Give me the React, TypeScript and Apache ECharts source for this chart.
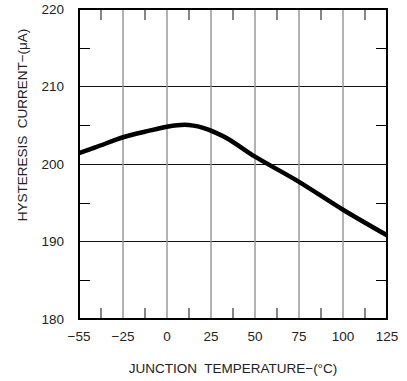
import React, { useEffect, useRef } from "react";
import * as echarts from "echarts";

// x positions on the (evenly spaced) temperature axis; first tick is labelled -55
const tickValues = [-50, -25, 0, 25, 50, 75, 100, 125];
const tickLabels = ["−55", "−25", "0", "25", "50", "75", "100", "125"];
const temps = [-50, -40, -25, -10, 0, 10, 15, 20, 25, 35, 50, 75, 100, 125];
const current = [201.4, 202.2, 203.45, 204.3, 204.8, 205.05, 204.95, 204.7, 204.3, 203.2, 200.95, 197.7, 194.1, 190.8];
const yTicks = [180, 190, 200, 210, 220];

const FONT = "Liberation Sans";

export default function App() {
  const ref = useRef<HTMLDivElement>(null);
  useEffect(() => {
    const chart = echarts.init(ref.current!, null, { renderer: "svg" });
    const labelFor = (v: number) => {
      const i = tickValues.indexOf(v);
      return i >= 0 ? tickLabels[i] : "";
    };
    const yMin = yTicks[0];
    const yMax = yTicks[yTicks.length - 1];
    const minorX = tickValues.slice(0, -1).map((v, i) => (v + tickValues[i + 1]) / 2);
    const frameAxis = {
      axisLine: { show: true, onZero: false, lineStyle: { color: "#000", width: 2 } },
      axisTick: { show: false, inside: true },
      minorTick: { show: true, splitNumber: 2, length: 11, lineStyle: { color: "#000", width: 1 } },
    };
    const tickSeries = (yVal: number, offset: number) => ({
      type: "scatter",
      xAxisIndex: 0,
      yAxisIndex: 0,
      silent: true,
      clip: false,
      symbol: "rect",
      symbolSize: [1.2, 11],
      symbolOffset: [0, offset],
      itemStyle: { color: "#000" },
      z: 4,
      data: minorX.map((v) => [v, yVal]),
    });
    chart.setOption({
      animation: false,
      backgroundColor: "#fff",
      grid: { left: 79, right: 20, top: 9, bottom: 62, containLabel: false },
      xAxis: [
        {
          type: "value",
          min: -50,
          max: 125,
          interval: 25,
          position: "bottom",
          name: "JUNCTION  TEMPERATURE−(°C)",
          nameLocation: "middle",
          nameGap: 42,
          nameTextStyle: { fontFamily: FONT, fontSize: 13.5, color: "#222" },
          axisLine: { show: true, onZero: false, lineStyle: { color: "#000", width: 2 } },
          axisTick: { show: false },
          axisLabel: { formatter: labelFor, fontFamily: FONT, fontSize: 13.5, color: "#222", margin: 10 },
          splitLine: { show: true, lineStyle: { color: "#999", width: 1.5 } },
        },
        {
          type: "value",
          min: -50,
          max: 125,
          interval: 25,
          position: "top",
          axisLine: { show: true, onZero: false, lineStyle: { color: "#000", width: 2 } },
          axisTick: { show: false },
          axisLabel: { show: false },
          splitLine: { show: false },
        },
      ],
      yAxis: [
        {
          type: "value",
          min: yMin,
          max: yMax,
          interval: 10,
          position: "left",
          ...frameAxis,
          axisLabel: {
            formatter: (v: number) => (yTicks.includes(v) ? String(v) : ""),
            fontFamily: FONT,
            fontSize: 13.5,
            color: "#222",
            margin: 15,
          },
          splitLine: { show: true, lineStyle: { color: "#111", width: 1 } },
        },
        {
          type: "value",
          min: yMin,
          max: yMax,
          interval: 10,
          position: "right",
          ...frameAxis,
          axisLabel: { show: false },
          splitLine: { show: false },
        },
      ],
      graphic: [
        {
          type: "text",
          x: 22,
          y: 125,
          rotation: Math.PI / 2,
          style: {
            text: "HYSTERESIS  CURRENT−(μA)",
            fontFamily: FONT,
            fontSize: 13.5,
            fill: "#222",
            align: "center",
            verticalAlign: "middle",
          },
        },
      ],
      series: [
        {
          type: "line",
          xAxisIndex: 0,
          yAxisIndex: 0,
          data: temps.map((t, i) => [t, current[i]]),
          smooth: 0.3,
          showSymbol: false,
          z: 3,
          lineStyle: { color: "#000", width: 4.5 },
        },
        tickSeries(yMin, -5.5),
        tickSeries(yMax, 5.5),
      ],
    });
    return () => chart.dispose();
  }, []);
  return <div ref={ref} style={{ width: 407, height: 381, position: "absolute", left: 0, top: 0 }} />;
}
